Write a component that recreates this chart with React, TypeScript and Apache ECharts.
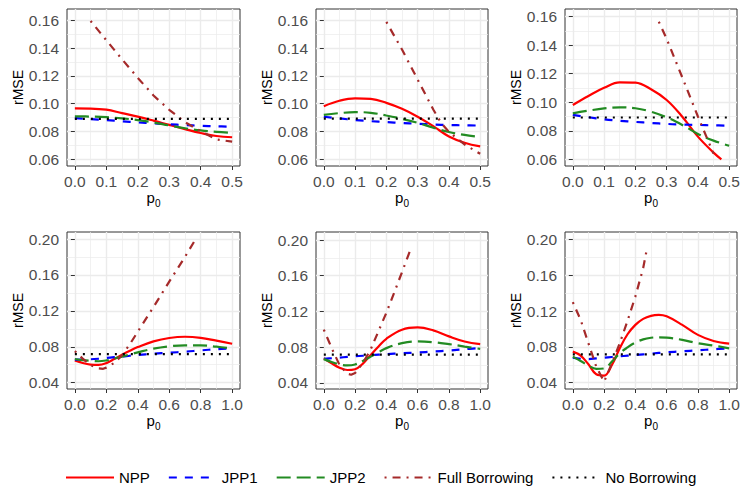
import React, { useEffect, useRef } from "react";
import * as echarts from "echarts";

// ---------- data ----------
const seriesNames = ["NPP", "JPP1", "JPP2", "Full Borrowing", "No Borrowing"];

const xRow1 = [0, 0.05, 0.1, 0.15, 0.2, 0.25, 0.3, 0.35, 0.4, 0.45, 0.5];
const xRow2 = [0, 0.05, 0.1, 0.15, 0.2, 0.25, 0.3, 0.35, 0.4, 0.5, 0.6, 0.7, 0.8, 0.9, 1.0];
const xP3NPP = [0, 0.05, 0.1, 0.15, 0.2, 0.25, 0.3, 0.35, 0.4, 0.45, 0.475];
const xP6 = [0, 0.05, 0.1, 0.15, 0.2, 0.25, 0.3, 0.35, 0.4, 0.45, 0.5, 0.55, 0.6, 0.7, 0.8, 0.9, 1.0];
const xEnds1 = [0, 0.5];
const xEnds2 = [0, 1.0];

// panel 1
const p1NPP = [0.0965, 0.0964, 0.0956, 0.0931, 0.0906, 0.0877, 0.0846, 0.0816, 0.0788, 0.0766, 0.0757];
const p1JPP1 = [0.0895, 0.0888, 0.0881, 0.0872, 0.0864, 0.0857, 0.085, 0.0845, 0.084, 0.0836, 0.0833];
const p1JPP2 = [0.0908, 0.0906, 0.0902, 0.0893, 0.0881, 0.0864, 0.0842, 0.0822, 0.0806, 0.0796, 0.0789];
const p1FB = [[0.05, 0.1595], [0.1, 0.1456], [0.15, 0.1319], [0.2, 0.1185], [0.25, 0.1058], [0.3, 0.0955], [0.35, 0.0866], [0.4, 0.08], [0.45, 0.0742], [0.5, 0.0725]];
const p1NB = [0.089, 0.089];

// panel 2
const p2NPP = [0.0981, 0.102, 0.1037, 0.1033, 0.1005, 0.0962, 0.0905, 0.0837, 0.0763, 0.0718, 0.0691];
const p2JPP1 = [0.0905, 0.0893, 0.0881, 0.0873, 0.0866, 0.086, 0.0854, 0.0849, 0.0845, 0.0843, 0.0841];
const p2JPP2 = [0.0918, 0.0931, 0.0938, 0.0933, 0.0914, 0.089, 0.0861, 0.0826, 0.0795, 0.0774, 0.0758];
const p2FB = [[0.2, 0.1588], [0.25, 0.1389], [0.3, 0.1173], [0.35, 0.0957], [0.375, 0.0861], [0.4, 0.0795], [0.45, 0.0705], [0.5, 0.0638]];
const p2NB = [0.0892, 0.0892];

// panel 3
const p3NPP = [0.0981, 0.1044, 0.1101, 0.114, 0.1138, 0.1091, 0.1016, 0.0899, 0.0759, 0.0647, 0.06];
const p3JPP1 = [0.0911, 0.0895, 0.088, 0.087, 0.0862, 0.0855, 0.0848, 0.0844, 0.0841, 0.0838, 0.0836];
const p3JPP2 = [0.0922, 0.0941, 0.0957, 0.0964, 0.0958, 0.0934, 0.0894, 0.0841, 0.0778, 0.0731, 0.0695];
const p3FB = [[0.275, 0.1565], [0.3, 0.1445], [0.35, 0.1175], [0.4, 0.09], [0.45, 0.064]];
const p3NB = [0.0893, 0.0893];

// panel 4
const p4NPP = [0.0649, 0.062, 0.0602, 0.0598, 0.0618, 0.0663, 0.0712, 0.0757, 0.0797, 0.086, 0.0898, 0.0912, 0.09, 0.0868, 0.0834];
const p4JPP1 = [0.0656, 0.0658, 0.0661, 0.0667, 0.0675, 0.0684, 0.0693, 0.07, 0.0708, 0.0723, 0.0734, 0.0745, 0.076, 0.0773, 0.078];
const p4JPP2 = [0.0664, 0.0652, 0.0644, 0.0639, 0.0648, 0.0668, 0.0691, 0.0715, 0.0738, 0.0779, 0.0805, 0.0816, 0.0816, 0.0801, 0.0782];
const p4FB = [[0, 0.0752], [0.05, 0.0668], [0.1, 0.0595], [0.15, 0.056], [0.18, 0.0555], [0.2, 0.0568], [0.25, 0.062], [0.3, 0.0705], [0.35, 0.083], [0.4, 0.0968], [0.5, 0.1243], [0.6, 0.1525], [0.7, 0.1801], [0.76, 0.1975]];
const p4NB = [0.0718, 0.0718];

// panel 5
const p5NPP = [0.0675, 0.0618, 0.0569, 0.0543, 0.0552, 0.0615, 0.0712, 0.0806, 0.0893, 0.0995, 0.102, 0.0987, 0.092, 0.0863, 0.0833];
const p5JPP1 = [0.0667, 0.0675, 0.0682, 0.069, 0.0697, 0.0703, 0.0709, 0.0715, 0.072, 0.0731, 0.0739, 0.075, 0.0761, 0.0776, 0.0788];
const p5JPP2 = [0.0665, 0.0633, 0.0607, 0.0594, 0.0605, 0.0645, 0.0693, 0.0742, 0.0788, 0.0844, 0.0863, 0.0855, 0.0833, 0.0806, 0.078];
const p5FB = [[0, 0.0995], [0.05, 0.079], [0.1, 0.06], [0.15, 0.05], [0.175, 0.049], [0.2, 0.051], [0.25, 0.062], [0.3, 0.0775], [0.35, 0.098], [0.4, 0.1185], [0.45, 0.141], [0.5, 0.164], [0.56, 0.192]];
const p5NB = [0.0715, 0.0715];

// panel 6 (NPP and JPP2 on xP6)
const p6NPP = [0.0748, 0.0703, 0.0606, 0.0495, 0.048, 0.0598, 0.0785, 0.0942, 0.1047, 0.1114, 0.1148, 0.1158, 0.1142, 0.1047, 0.0935, 0.0867, 0.0837];
const p6JPP1 = [0.068, 0.0668, 0.0665, 0.0672, 0.068, 0.0688, 0.0695, 0.0703, 0.071, 0.0725, 0.074, 0.0751, 0.0763, 0.0774, 0.0785];
const p6JPP2 = [0.0692, 0.0643, 0.0591, 0.0555, 0.056, 0.0636, 0.0729, 0.0795, 0.0849, 0.0885, 0.0903, 0.0908, 0.0905, 0.0879, 0.0841, 0.0815, 0.0785];
const p6FB = [[0, 0.1301], [0.05, 0.1103], [0.1, 0.0841], [0.15, 0.0579], [0.2, 0.0411], [0.25, 0.0617], [0.3, 0.0841], [0.35, 0.1092], [0.4, 0.1364], [0.45, 0.1682], [0.475, 0.1907]];
const p6NB = [0.0718, 0.0718];

// ticks
const row1XMajor = [0, 0.1, 0.2, 0.3, 0.4, 0.5];
const row1XMinor = [0.05, 0.15, 0.25, 0.35, 0.45];
const row1YMajor = [0.06, 0.08, 0.1, 0.12, 0.14, 0.16];
const row1YMinor = [0.07, 0.09, 0.11, 0.13, 0.15];
const row2XMajor = [0, 0.2, 0.4, 0.6, 0.8, 1.0];
const row2XMinor = [0.1, 0.3, 0.5, 0.7, 0.9];
const row2YMajor = [0.04, 0.08, 0.12, 0.16, 0.2];
const row2YMinor = [0.06, 0.1, 0.14, 0.18];

// ---------- layout / style ----------
const colors = ["#FF0000", "#0000FF", "#228B22", "#A52A2A", "#000000"];
const dashes: any[] = ["solid", [8, 8], [14, 6], [2, 6, 8, 6], [2, 6]];
const FONT = "Liberation Sans";

const zip = (xs: number[], ys: number[]) => xs.map((x, i) => [x, ys[i]]);

const panels = [
  { npp: zip(xRow1, p1NPP), jpp1: zip(xRow1, p1JPP1), jpp2: zip(xRow1, p1JPP2), fb: p1FB, nb: zip(xEnds1, p1NB), row: 0, x: [-0.025, 0.525], y: [0.055, 0.1681] },
  { npp: zip(xRow1, p2NPP), jpp1: zip(xRow1, p2JPP1), jpp2: zip(xRow1, p2JPP2), fb: p2FB, nb: zip(xEnds1, p2NB), row: 0, x: [-0.025, 0.525], y: [0.055, 0.1681] },
  { npp: zip(xP3NPP, p3NPP), jpp1: zip(xRow1, p3JPP1), jpp2: zip(xRow1, p3JPP2), fb: p3FB, nb: zip(xEnds1, p3NB), row: 0, x: [-0.025, 0.525], y: [0.0553, 0.1654] },
  { npp: zip(xRow2, p4NPP), jpp1: zip(xRow2, p4JPP1), jpp2: zip(xRow2, p4JPP2), fb: p4FB, nb: zip(xEnds2, p4NB), row: 1, x: [-0.05, 1.05], y: [0.033, 0.2078] },
  { npp: zip(xRow2, p5NPP), jpp1: zip(xRow2, p5JPP1), jpp2: zip(xRow2, p5JPP2), fb: p5FB, nb: zip(xEnds2, p5NB), row: 1, x: [-0.05, 1.05], y: [0.033, 0.209] },
  { npp: zip(xP6, p6NPP), jpp1: zip(xRow2, p6JPP1), jpp2: zip(xP6, p6JPP2), fb: p6FB, nb: zip(xEnds2, p6NB), row: 1, x: [-0.05, 1.05], y: [0.033, 0.2085] },
];

const gridLefts = [67, 316, 565];
const gridWidths = [173, 172, 172];
const gridTops = [9, 232];
const gridH = 157;

function buildOption() {
  const grid: any[] = [];
  const xAxis: any[] = [];
  const yAxis: any[] = [];
  const series: any[] = [];
  panels.forEach((p, i) => {
    const c = i % 3;
    const r = p.row;
    grid.push({
      left: gridLefts[c], top: gridTops[r], width: gridWidths[c], height: gridH,
      show: true, borderColor: "#333333", borderWidth: 1, backgroundColor: "#ffffff",
    });
    const xMaj = r === 0 ? row1XMajor : row2XMajor;
    const xMin = r === 0 ? row1XMinor : row2XMinor;
    const yMaj = r === 0 ? row1YMajor : row2YMajor;
    const yMin = r === 0 ? row1YMinor : row2YMinor;
    const labelStyle = { color: "#4D4D4D", fontSize: 15.5, fontFamily: FONT };
    xAxis.push({
      type: "value", gridIndex: i, min: p.x[0], max: p.x[1], position: "bottom",
      axisLine: { show: false },
      axisTick: { show: true, customValues: xMaj, length: 4, lineStyle: { color: "#333333", width: 1 } },
      axisLabel: { ...labelStyle, customValues: xMaj, margin: 7, formatter: (v: number) => v.toFixed(1) },
      splitLine: { show: true, lineStyle: { color: "#EBEBEB", width: 1.4 } },
      name: "{a|p}{b|0}", nameLocation: "middle", nameGap: 24,
      nameTextStyle: {
        rich: {
          a: { fontSize: 15, fontFamily: FONT, color: "#000", lineHeight: 15, verticalAlign: "top" },
          b: { fontSize: 10, fontFamily: FONT, color: "#000", lineHeight: 10, verticalAlign: "top", padding: [8, 0, 0, 0] },
        },
      },
    });
    xAxis.push({
      type: "value", gridIndex: i, min: p.x[0], max: p.x[1], position: "bottom",
      axisLine: { show: false },
      axisTick: { show: false, customValues: xMin },
      axisLabel: { show: false },
      splitLine: { show: true, lineStyle: { color: "#EBEBEB", width: 0.7 } },
    });
    yAxis.push({
      type: "value", gridIndex: i, min: p.y[0], max: p.y[1], position: "left",
      axisLine: { show: false },
      axisTick: { show: true, customValues: yMaj, length: 4, lineStyle: { color: "#333333", width: 1 } },
      axisLabel: { ...labelStyle, customValues: yMaj, margin: 8, formatter: (v: number) => v.toFixed(2) },
      splitLine: { show: true, lineStyle: { color: "#EBEBEB", width: 1.4 } },
      name: "rMSE", nameLocation: "middle", nameGap: 40,
      nameTextStyle: { fontSize: 14, fontFamily: FONT, color: "#000" },
    });
    yAxis.push({
      type: "value", gridIndex: i, min: p.y[0], max: p.y[1], position: "left",
      axisLine: { show: false },
      axisTick: { show: false, customValues: yMin },
      axisLabel: { show: false },
      splitLine: { show: true, lineStyle: { color: "#EBEBEB", width: 0.7 } },
    });
    const datas = [p.npp, p.jpp1, p.jpp2, p.fb, p.nb];
    datas.forEach((d, k) => {
      series.push({
        name: seriesNames[k], type: "line", xAxisIndex: 2 * i, yAxisIndex: 2 * i,
        data: d, symbol: "none", showSymbol: false,
        smooth: k === 3 || k === 4 ? false : 0.4,
        clip: true,
        lineStyle: { color: colors[k], width: 2.2, type: dashes[k], cap: "butt" },
        itemStyle: { color: colors[k] },
        z: 2 + k,
      });
    });
  });
  return {
    animation: false,
    backgroundColor: "#ffffff",
    textStyle: { fontFamily: FONT },
    grid, xAxis, yAxis, series,
    legend: {
      data: seriesNames, left: 60, top: 465, itemWidth: 48, itemHeight: 14, itemGap: 18,
      selectedMode: false,
      itemStyle: { opacity: 0, borderWidth: 0 },
      textStyle: { fontSize: 15, color: "#000", fontFamily: FONT },
    },
  };
}

export default function App() {
  const ref = useRef<HTMLDivElement>(null);
  useEffect(() => {
    if (!ref.current) return;
    const chart = echarts.init(ref.current, undefined, { renderer: "svg" });
    chart.setOption(buildOption() as any);
    return () => chart.dispose();
  }, []);
  return (
    <div
      ref={ref}
      style={{ position: "absolute", left: 0, top: 0, width: 747, height: 498, background: "#fff" }}
    />
  );
}
